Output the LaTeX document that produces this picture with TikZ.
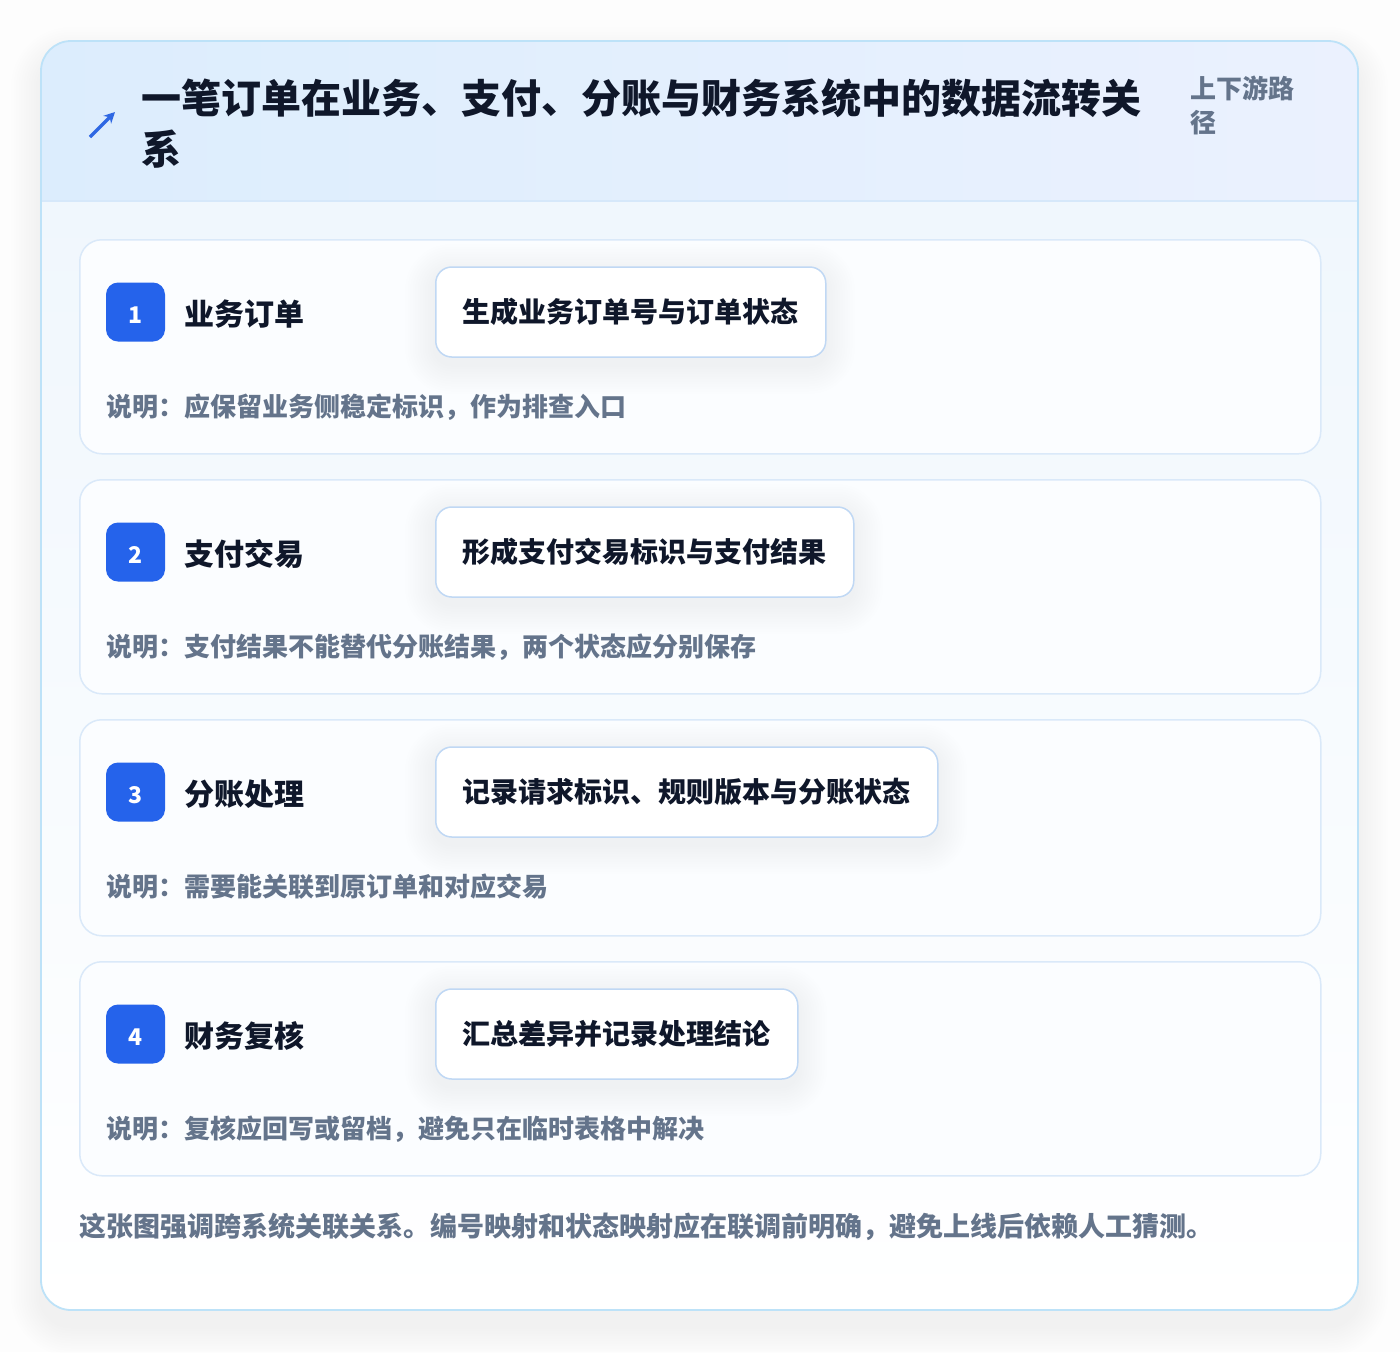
\documentclass[tikz,border=0pt]{standalone}
\usepackage{fontspec}
\setmainfont{Noto Sans CJK SC}
\usepackage{tikz}
\usetikzlibrary{arrows.meta,calc}

\definecolor{ink}{HTML}{0F172A}
\definecolor{muted}{HTML}{64748B}
\definecolor{badgeblue}{HTML}{2563EB}
\definecolor{arrowblue}{HTML}{2F68E3}
\definecolor{outerline}{HTML}{BDE2F8}
\definecolor{cardline}{HTML}{DAE9F9}
\definecolor{boxline}{HTML}{C0D8F4}
\definecolor{headleft}{HTML}{DCEDFD}
\definecolor{headright}{HTML}{EBF1FE}
\definecolor{headline}{HTML}{D6E8FA}
\definecolor{bodytop}{HTML}{F0F7FD}
\definecolor{cardfill}{HTML}{FBFDFF}
\definecolor{pagebg}{HTML}{FDFDFD}

% soft shadow: #1 = north west, #2 = south east, #3 = radius, #4 = offset, #5 = opacity
\newcommand\softshadow[5]{%
  \foreach \k in {1,...,12}{%
    \fill[black, opacity=#5, rounded corners=#3+\k*2.5]
      ($#1+(-\k*2.5,#4-\k*2.5)$) rectangle ($#2+(\k*2.5,#4+\k*2.5)$);}}

\tikzset{
  card/.style={rectangle, draw=cardline, line width=1.5pt,
    fill=cardfill, rounded corners=22pt, anchor=north west,
    minimum width=1241pt, inner sep=0pt},
  badge/.style={rectangle, fill=badgeblue, rounded corners=12pt,
    minimum size=59pt, inner sep=0pt, text=white,
    text height=22pt, text depth=0pt,
    font=\fontsize{23}{23}\selectfont\bfseries},
  steptitle/.style={anchor=base west, inner sep=0pt, text=ink,
    font=\fontsize{30}{30}\selectfont\bfseries},
  actionbox/.style={rectangle, draw=boxline, line width=1.5pt,
    fill=white, rounded corners=16pt, anchor=west,
    minimum height=90pt, inner xsep=27pt, inner ysep=0pt, text=ink,
    font=\fontsize{28}{28}\selectfont\bfseries},
  notetext/.style={anchor=base west, inner sep=0pt, text=muted,
    font=\fontsize{26}{26}\selectfont\bfseries}
}

\begin{document}
\begin{tikzpicture}[x=1pt,y=-1pt]
\useasboundingbox (0,0) rectangle (1400,1352);
\fill[pagebg] (0,0) rectangle (1400,1352);

% outer panel
\softshadow{(41,41)}{(1358,1310)}{30}{16}{0.0045}
\node[rectangle, rounded corners=30pt, inner sep=0pt,
      anchor=north west, minimum width=1317pt, minimum height=1269pt,
      fill=white] (panel) at (41,41) {};
\begin{scope}
\clip[rounded corners=30pt] (41,41) rectangle (1358,1310);
\shade[top color=bodytop, bottom color=white] (41,201) rectangle (1358,1310);
\shade[left color=headleft, right color=headright] (41,41) rectangle (1358,201);
\end{scope}
\draw[headline, line width=1.5pt] (41,201) -- (1358,201);
\draw[outerline, line width=1.8pt, rounded corners=30pt] (41,41) rectangle (1358,1310);

% header
\coordinate (arrowtail) at (90,137);
\coordinate (arrowhead) at (115,112);
\draw[arrowblue, line width=3.2pt, -{Stealth[length=11pt,width=11pt]}] (arrowtail) -- (arrowhead);

\node[anchor=north west, inner sep=0pt, align=left, text=ink,
      font=\fontsize{40}{51}\selectfont\bfseries] (title) at (141,79)
      {一笔订单在业务、支付、分账与财务系统中的数据流转关\\系};

\node[anchor=north west, inner sep=0pt, align=left, text=muted,
      font=\fontsize{26}{34}\selectfont\bfseries] (scope) at (1190,76)
      {上下游路\\径};

% step 1
\node[card, minimum height=214pt] (card1) at (79,239) {};
\node[badge] (badge1) at (135.5,312) {1};
\node[steptitle] (step1) at (184,325) {业务订单};
\softshadow{(435,267)}{(825,357)}{16}{7}{0.004}
\node[actionbox] (box1) at (435,312) {生成业务订单号与订单状态};
\node[notetext] (note1) at (106,416) {说明：应保留业务侧稳定标识，作为排查入口};

% step 2
\node[card, minimum height=214pt] (card2) at (79,479) {};
\node[badge] (badge2) at (135.5,552) {2};
\node[steptitle] (step2) at (184,565) {支付交易};
\softshadow{(435,507)}{(853,597)}{16}{7}{0.004}
\node[actionbox] (box2) at (435,552) {形成支付交易标识与支付结果};
\node[notetext] (note2) at (106,656) {说明：支付结果不能替代分账结果，两个状态应分别保存};

% step 3
\node[card, minimum height=216pt] (card3) at (79,719) {};
\node[badge] (badge3) at (135.5,792) {3};
\node[steptitle] (step3) at (184,805) {分账处理};
\softshadow{(435,747)}{(937,837)}{16}{7}{0.004}
\node[actionbox] (box3) at (435,792) {记录请求标识、规则版本与分账状态};
\node[notetext] (note3) at (106,896) {说明：需要能关联到原订单和对应交易};

% step 4
\node[card, minimum height=214pt] (card4) at (79,961) {};
\node[badge] (badge4) at (135.5,1034) {4};
\node[steptitle] (step4) at (184,1047) {财务复核};
\softshadow{(435,989)}{(797,1079)}{16}{7}{0.004}
\node[actionbox] (box4) at (435,1034) {汇总差异并记录处理结论};
\node[notetext] (note4) at (106,1138) {说明：复核应回写或留档，避免只在临时表格中解决};

% footer
\node[notetext, font=\fontsize{27}{27}\selectfont\bfseries] (summary) at (79,1236)
      {这张图强调跨系统关联关系。编号映射和状态映射应在联调前明确，避免上线后依赖人工猜测。};
\end{tikzpicture}
\end{document}
